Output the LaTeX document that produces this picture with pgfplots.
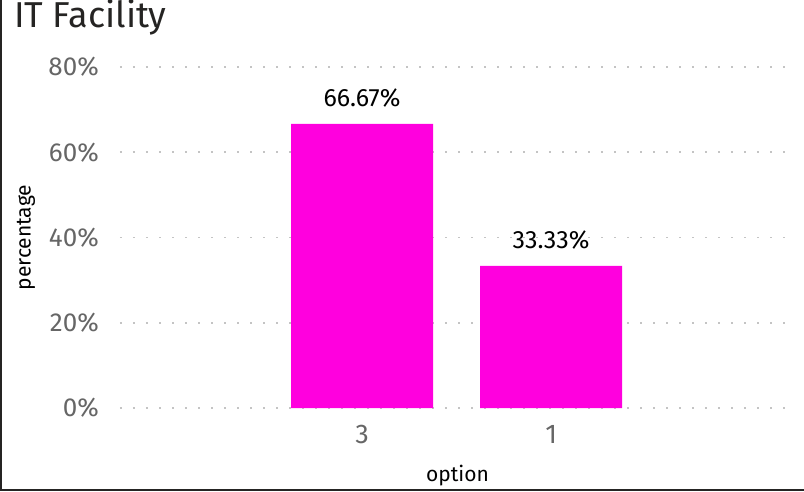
\documentclass[border=0pt]{standalone}
\usepackage{fontspec}
\setmainfont{Fira Sans}
\usepackage{pgfplots}
\pgfplotsset{compat=1.18}
\definecolor{barc}{HTML}{FF00DE}
\definecolor{tickc}{HTML}{666666}
\definecolor{gridc}{HTML}{C4C4C4}
\definecolor{titlec}{HTML}{252423}
\begin{document}
\begin{tikzpicture}[x=1pt,y=1pt]
\useasboundingbox (0,0) rectangle (804,491);
\draw[line width=2pt, color=titlec] (1,491) -- (1,1.5) -- (804,1.5);
\node[anchor=base west, font=\fontsize{36}{42}\selectfont, text=titlec, inner sep=0] at (14,463) {IT Facility};
\begin{axis}[
  at={(120pt,83pt)}, anchor=south west,
  scale only axis, width=675pt, height=341pt,
  xmin=-1.28, xmax=2.29, ymin=0, ymax=80,
  axis line style={draw=none},
  major tick length=0pt,
  /pgf/number format/assume math mode=true,
  ytick={0,20,40,60,80},
  yticklabel={\pgfmathprintnumber{\tick}\%},
  yticklabel style={font=\fontsize{26}{30}\selectfont, text=tickc, anchor=east, inner sep=0pt, xshift=-21pt},
  xtick={0,1}, xticklabels={3,1},
  xticklabel style={font=\fontsize{27}{30}\selectfont, text=tickc, anchor=base, inner sep=0pt, yshift=-35pt},
  ymajorgrids,
  grid style={gridc, line width=1.6pt, dash pattern=on 1.6pt off 11.4pt},
  ybar, bar width=142pt,
  nodes near coords={\pgfmathprintnumber[fixed,precision=2,fixed zerofill]{\pgfplotspointmeta}\%},
  nodes near coords style={font=\fontsize{25}{28}\selectfont, text=black, anchor=base, inner sep=0pt, yshift=17pt},
  xlabel={option},
  xlabel style={font=\fontsize{21}{24}\selectfont, text=black, at={(axis description cs:0.5,0)}, anchor=base, yshift=-73pt, inner sep=0pt},
  ylabel={percentage},
  ylabel style={font=\fontsize{21}{24}\selectfont, text=black, at={(axis description cs:0,0.5)}, anchor=center, yshift=94pt, inner sep=0pt},
  clip=false,
]
\addplot[fill=barc, draw=none] coordinates {(0,66.67) (1,33.33)};
\end{axis}
\end{tikzpicture}
\end{document}
